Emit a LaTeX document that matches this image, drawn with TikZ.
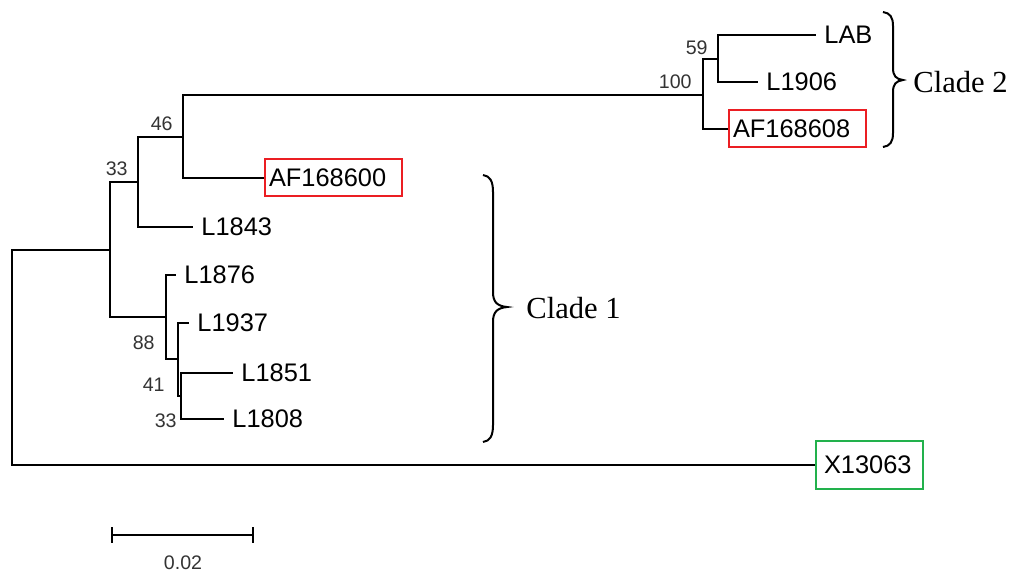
\documentclass[tikz,border=0pt]{standalone}
\usepackage{fontspec}
\setmainfont{Liberation Sans}
\newfontfamily\cladefont{Liberation Serif}
\definecolor{boxred}{RGB}{235,30,35}
\definecolor{boxgreen}{RGB}{34,177,76}
\begin{document}
\begin{tikzpicture}[x=0.5pt,y=-0.5pt,
  br/.style={line width=1pt},
  leaf/.style={anchor=west,inner xsep=4pt,inner ysep=0pt,font=\fontsize{12.7}{14}\selectfont},
  boxleaf/.style={anchor=west,draw,line width=1pt,inner xsep=2pt,inner ysep=0pt,align=left,font=\fontsize{12.7}{14}\selectfont},
  boot/.style={inner sep=0pt,font=\fontsize{9.8}{10}\selectfont,text=black!80},
  clade/.style={anchor=west,inner sep=0pt,font=\cladefont\fontsize{15.3}{17}\selectfont},
  brc/.style={line width=1pt}]
\useasboundingbox (0,0) rectangle (1026,575);

% internal nodes
\coordinate (r) at (12,359);
\coordinate (n1) at (110,250);
\coordinate (n2) at (138,182);
\coordinate (n3) at (183,137);
\coordinate (n4) at (703,95);
\coordinate (n4b) at (718,59);
\coordinate (n5) at (166,317);
\coordinate (n6) at (178,359);
\coordinate (n7) at (181,396);

% leaves
\node[leaf] (LAB) at (816,35) {LAB};
\node[leaf] (L1906) at (758,82) {L1906};
\node[boxleaf,draw=boxred,text width=64.5pt,minimum height=18.5pt] (AF608) at (728,128.5) {AF168608};
\node[boxleaf,draw=boxred,text width=64.5pt,minimum height=18.5pt] (AF600) at (264,177.5) {AF168600};
\node[leaf] (L1843) at (193,227) {L1843};
\node[leaf] (L1876) at (176,275) {L1876};
\node[leaf] (L1937) at (189,323) {L1937};
\node[leaf] (L1851) at (233,373) {L1851};
\node[leaf] (L1808) at (224,419) {L1808};
\node[boxleaf,draw=boxgreen,inner xsep=4pt,text width=45.5pt,minimum height=24pt] (X) at (815,465) {X13063};

% branches
\draw[br] (r) |- (n1);
\draw[br] (r) |- (X.west);
\draw[br] (n1) |- (n2);
\draw[br] (n1) |- (n5);
\draw[br] (n2) |- (n3);
\draw[br] (n2) |- (L1843.west);
\draw[br] (n3) |- (n4);
\draw[br] (n3) |- (AF600.west);
\draw[br] (n4) |- (n4b);
\draw[br] (n4) |- (AF608.west);
\draw[br] (n4b) |- (LAB.west);
\draw[br] (n4b) |- (L1906.west);
\draw[br] (n5) |- (L1876.west);
\draw[br] (n5) |- (n6);
\draw[br] (n6) |- (L1937.west);
\draw[br] (n6) |- (n7);
\draw[br] (n7) |- (L1851.west);
\draw[br] (n7) |- (L1808.west);

% bootstrap values
\node[boot,anchor=east] (b59) at (708,48) {59};
\node[boot,anchor=east] (b100) at (692,82) {100};
\node[boot,anchor=east] (b46) at (173,124) {46};
\node[boot,anchor=east] (b33a) at (128,169) {33};
\node[boot,anchor=east] (b88) at (155,343) {88};
\node[boot,anchor=east] (b41) at (165,385) {41};
\node[boot,anchor=east] (b33b) at (177,421) {33};

% braces
\draw[brc] (483,175) .. controls (490,176) and (493,181) .. (493,192) -- (493,292)
  .. controls (493,302) and (497,306) .. (507,307)
  .. controls (497,308) and (493,312) .. (493,322) -- (493,425)
  .. controls (493,436) and (490,441) .. (483,442);
\node[clade] (c1) at (526,308) {Clade 1};
\draw[brc] (883,12) .. controls (890,13) and (893,17) .. (893,26) -- (893,68)
  .. controls (893,76) and (896,79) .. (903,80)
  .. controls (896,81) and (893,84) .. (893,92) -- (893,133)
  .. controls (893,142) and (890,146) .. (883,147);
\node[clade] (c2) at (913,82) {Clade 2};

% scale bar
\coordinate (s1) at (112,535);
\coordinate (s2) at (253,535);
\draw[br] (s1) -- (s2);
\draw[br] ([yshift=4pt]s1) -- ([yshift=-4pt]s1);
\draw[br] ([yshift=4pt]s2) -- ([yshift=-4pt]s2);
\node[boot] (scale) at (183,563) {0.02};
\end{tikzpicture}
\end{document}
